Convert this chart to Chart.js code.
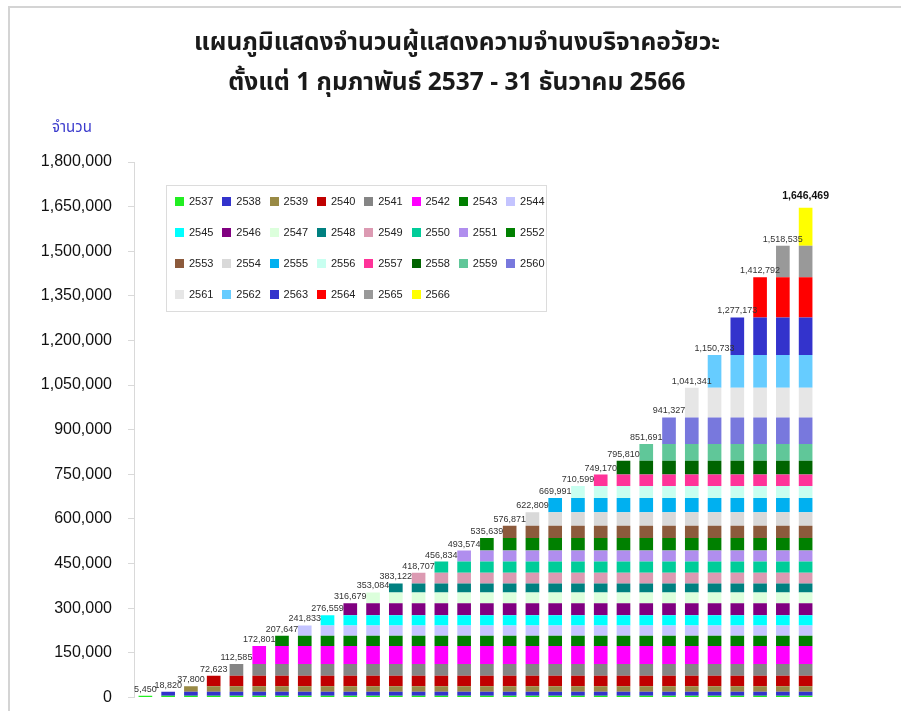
<!DOCTYPE html>
<html>
<head>
<meta charset="utf-8">
<script src="https://cdn.jsdelivr.net/npm/chart.js@4.4.1/dist/chart.umd.min.js"></script>
<style>
  body { margin: 0; background: #fff; }
  #wrap { position: relative; width: 901px; height: 711px; overflow: hidden; }
  #chart { position: absolute; left: 0; top: 0; }
  #frame { position: absolute; left: 8px; top: 6px; width: 900px; height: 710px;
           border-left: 2px solid #d4d4d4; border-top: 2px solid #d4d4d4; pointer-events: none; }
  .title { position: absolute; left: 0; width: 914px; text-align: center; font-size: 24.5px; font-weight: bold;
           color: #1a1a1a; font-family: Tahoma, "Noto Sans Thai", "Noto Sans", sans-serif; line-height: 40px; }
  #legend { position: absolute; left: 166px; top: 185px; width: 379px; height: 125px;
            border: 1px solid #dcdcdc; background: #fff; font-family: "Liberation Sans", Arial, sans-serif;
            font-size: 11px; color: #222; }
  #legend .item { position: absolute; display: flex; align-items: center; }
  #legend .box { width: 9px; height: 9px; margin-right: 5px; }
  #unit { position: absolute; left: 52px; top: 116px; font-size: 15px; color: #3a3acc;
          font-family: Tahoma, "Noto Sans Thai", "Noto Sans", sans-serif; }
</style>
</head>
<body>
<div id="wrap">
  <canvas id="chart" width="901" height="723"></canvas>
  <div id="frame"></div>
  <div class="title" style="top:23px">แผนภูมิแสดงจำนวนผู้แสดงความจำนงบริจาคอวัยวะ</div>
  <div class="title" style="top:63px">ตั้งแต่ 1 กุมภาพันธ์ 2537 - 31 ธันวาคม 2566</div>
  <div id="unit">จำนวน</div>
  <div id="legend"></div>
</div>
<script>
const years = ["2537","2538","2539","2540","2541","2542","2543","2544","2545","2546",
  "2547","2548","2549","2550","2551","2552","2553","2554","2555","2556",
  "2557","2558","2559","2560","2561","2562","2563","2564","2565","2566"];

// cumulative totals
const totals = [5450, 18820, 37800, 72623, 112585, 172801, 207647, 241833, 276559, 316679,
  353084, 383122, 418707, 456834, 493574, 535639, 576871, 622809, 669991, 710599,
  749170, 795810, 851691, 941327, 1041341, 1150733, 1277173, 1412792, 1518535, 1646469];

const colors = ["#22ee22","#3333cc","#998a45","#c00000","#858585","#ff00ff","#007f00","#c4c4ff","#00ffff","#800080",
  "#dcffdc","#008080","#dc9ab2","#00cc99","#b08eee","#008000","#8c5a3c","#d9d9d9","#00b0f0","#c8fff0",
  "#ff3399","#006400","#60c799","#7878dd","#e6e6e6","#66ccff","#3333cc","#ff0000","#999999","#ffff00"];

const yTicks = [0, 150000, 300000, 450000, 600000, 750000, 900000, 1050000, 1200000, 1350000, 1500000, 1650000, 1800000];

// each year's new donors, stacked on top of earlier years
const increments = totals.map((t, i) => i === 0 ? t : t - totals[i - 1]);

const datasets = years.map((y, k) => ({
  label: y,
  data: years.map((_, j) => j >= k ? increments[k] : null),
  backgroundColor: colors[k],
  borderWidth: 0,
  barPercentage: 0.6,
  categoryPercentage: 1.0
}));

// legend box (html so it can sit inside the plot)
const legend = document.getElementById("legend");
years.forEach((y, i) => {
  const el = document.createElement("div");
  el.className = "item";
  el.style.left = (8 + (i % 8) * 47.3) + "px";
  el.style.top = (9 + Math.floor(i / 8) * 31) + "px";
  el.innerHTML = `<span class="box" style="background:${colors[i]}"></span>${y}`;
  legend.appendChild(el);
});

const topLabels = {
  id: "topLabels",
  afterDatasetsDraw(chart) {
    const ctx = chart.ctx;
    ctx.save();
    ctx.textAlign = "center";
    ctx.textBaseline = "bottom";
    totals.forEach((t, j) => {
      const bar = chart.getDatasetMeta(j).data[j];
      const last = j === totals.length - 1;
      ctx.font = last ? "bold 10.5px 'Liberation Sans', Arial" : "9px 'Liberation Sans', Arial";
      ctx.fillStyle = last ? "#111" : "#333";
      ctx.fillText(t.toLocaleString("en-US"), bar.x, bar.y - (last ? 6 : 2));
    });
    ctx.restore();
  }
};

new Chart(document.getElementById("chart"), {
  type: "bar",
  data: { labels: years, datasets },
  options: {
    responsive: false,
    animation: false,
    layout: { padding: { left: 0, right: 84, top: 162, bottom: 2 } },
    plugins: {
      legend: { display: false },
      tooltip: { enabled: false },
      title: { display: false }
    },
    scales: {
      x: { stacked: true, display: false },
      y: {
        stacked: true,
        min: 0,
        max: 1800000,
        afterBuildTicks: (axis) => { axis.ticks = yTicks.map(v => ({ value: v })); },
        afterFit: (axis) => { axis.width = 134; },
        border: { display: true, color: "#d9d9d9" },
        grid: { drawOnChartArea: false, color: "#d9d9d9", tickLength: 6 },
        ticks: {
          padding: 16,
          color: "#111",
          font: { family: "'Liberation Sans', Arial", size: 16 },
          callback: (v) => v.toLocaleString("en-US")
        }
      }
    }
  },
  plugins: [topLabels]
});
</script>
</body>
</html>
